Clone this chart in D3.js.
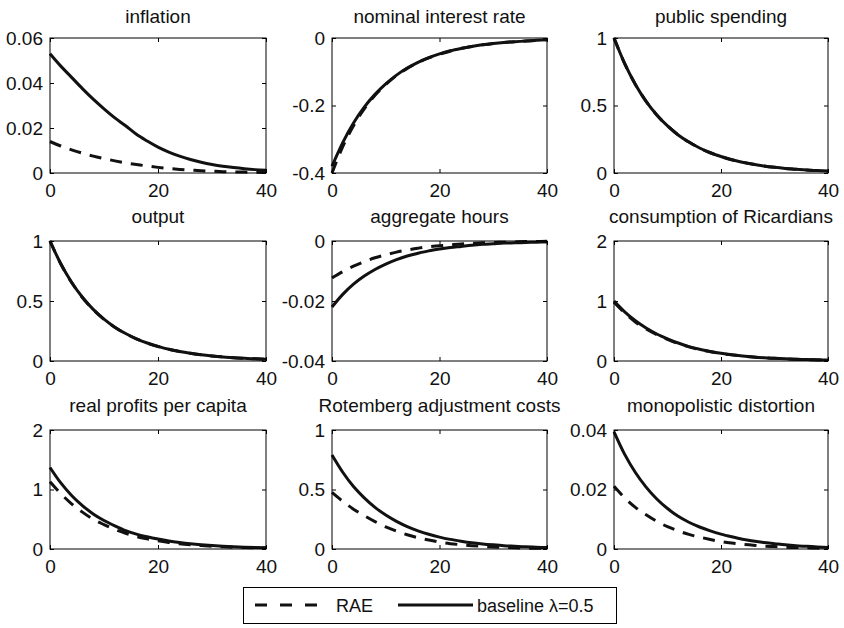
<!DOCTYPE html>
<html><head><meta charset="utf-8">
<script src="https://cdn.jsdelivr.net/npm/d3@7"></script>
<style>
body{margin:0;background:#fff}
svg{display:block}
text{font-family:"Liberation Sans",Arial,Helvetica,sans-serif}
</style>
</head><body>
<svg id="c" width="844" height="628"></svg>
<script>
// ---------- data ----------
const periods = [0,2,4,6,8,10,12,14,16,18,20,22,24,26,28,30,32,34,36,38,40];
const xTicks = [0,20,40];
const xTickLabels = ["0","20","40"];
const seriesNames = ["RAE", "baseline \u03bb=0.5"];

const titles = ["inflation","nominal interest rate","public spending",
  "output","aggregate hours","consumption of Ricardians",
  "real profits per capita","Rotemberg adjustment costs","monopolistic distortion"];

const inflationRAE  = [0.014,0.012,0.0103,0.0088,0.0075,0.0064,0.0054,0.0045,0.0038,0.0031,0.0025,0.002,0.0016,0.0013,0.001,0.0008,0.0006,0.0005,0.0004,0.0003,0.0002];
const inflationBase = [0.053,0.0475,0.0425,0.0375,0.0328,0.0285,0.0245,0.021,0.0172,0.0142,0.0115,0.0093,0.0075,0.006,0.0048,0.0038,0.003,0.0024,0.0019,0.0015,0.0012];

const nominalRAE  = [-0.40,-0.322,-0.26,-0.21,-0.17,-0.138,-0.111,-0.09,-0.073,-0.059,-0.048,-0.039,-0.031,-0.025,-0.02,-0.016,-0.013,-0.011,-0.009,-0.007,-0.005];
const nominalBase = [-0.38,-0.31,-0.252,-0.205,-0.167,-0.136,-0.11,-0.089,-0.072,-0.058,-0.047,-0.038,-0.031,-0.025,-0.02,-0.016,-0.013,-0.011,-0.009,-0.007,-0.005];

const spendingRAE  = [1.0,0.81,0.656,0.531,0.43,0.349,0.282,0.229,0.185,0.15,0.122,0.098,0.08,0.065,0.052,0.042,0.034,0.028,0.022,0.018,0.014];
const spendingBase = [1.0,0.81,0.656,0.531,0.43,0.349,0.282,0.229,0.185,0.15,0.122,0.098,0.08,0.065,0.052,0.042,0.034,0.028,0.022,0.018,0.014];

const outputRAE  = [1.0,0.808,0.654,0.529,0.428,0.347,0.281,0.228,0.184,0.149,0.121,0.098,0.079,0.064,0.052,0.042,0.034,0.028,0.022,0.018,0.014];
const outputBase = [1.0,0.81,0.656,0.531,0.43,0.349,0.282,0.229,0.185,0.15,0.122,0.098,0.08,0.065,0.052,0.042,0.034,0.028,0.022,0.018,0.014];

const hoursRAE  = [-0.0123,-0.0102,-0.0084,-0.0069,-0.0056,-0.0046,-0.0037,-0.003,-0.0024,-0.0019,-0.0016,-0.0013,-0.001,-0.0008,-0.0006,-0.0005,-0.0004,-0.0003,-0.0002,-0.0002,-0.0001];
const hoursBase = [-0.022,-0.0178,-0.0144,-0.0117,-0.0095,-0.0077,-0.0062,-0.005,-0.0041,-0.0033,-0.0027,-0.0022,-0.0018,-0.0014,-0.0011,-0.0009,-0.0007,-0.0006,-0.0005,-0.0004,-0.0003];

const consumptionRAE  = [0.98,0.80,0.65,0.535,0.44,0.36,0.29,0.235,0.19,0.155,0.125,0.102,0.083,0.067,0.054,0.044,0.035,0.028,0.023,0.018,0.014];
const consumptionBase = [1.0,0.82,0.67,0.55,0.45,0.37,0.30,0.24,0.195,0.16,0.13,0.105,0.085,0.068,0.055,0.045,0.036,0.029,0.024,0.019,0.015];

const profitsRAE  = [1.13,0.93,0.76,0.62,0.5,0.41,0.33,0.265,0.21,0.17,0.137,0.11,0.088,0.071,0.057,0.046,0.037,0.03,0.024,0.019,0.015];
const profitsBase = [1.37,1.11,0.90,0.73,0.59,0.48,0.39,0.31,0.25,0.205,0.167,0.135,0.11,0.089,0.072,0.058,0.047,0.038,0.031,0.025,0.02];

const rotembergRAE  = [0.475,0.40,0.335,0.28,0.23,0.185,0.15,0.12,0.095,0.075,0.058,0.045,0.036,0.028,0.022,0.017,0.013,0.01,0.008,0.006,0.005];
const rotembergBase = [0.79,0.645,0.525,0.43,0.35,0.285,0.232,0.188,0.153,0.124,0.10,0.081,0.066,0.053,0.043,0.035,0.028,0.023,0.018,0.015,0.012];

const monopolyRAE  = [0.0211,0.0172,0.014,0.0115,0.0093,0.0075,0.0061,0.0049,0.004,0.0032,0.0025,0.002,0.0016,0.0013,0.001,0.0008,0.0006,0.0005,0.0004,0.0003,0.0002];
const monopolyBase = [0.0394,0.0318,0.0257,0.0208,0.0168,0.0136,0.011,0.009,0.0074,0.0061,0.005,0.0041,0.0033,0.0027,0.0022,0.0018,0.0014,0.0011,0.0009,0.0007,0.0005];

const inflationTicks = [0,0.02,0.04,0.06],  inflationTickLabels = ["0","0.02","0.04","0.06"];
const nominalTicks   = [-0.4,-0.2,0],        nominalTickLabels   = ["-0.4","-0.2","0"];
const spendingTicks  = [0,0.5,1],            spendingTickLabels  = ["0","0.5","1"];
const outputTicks    = [0,0.5,1],            outputTickLabels    = ["0","0.5","1"];
const hoursTicks     = [-0.04,-0.02,0],      hoursTickLabels     = ["-0.04","-0.02","0"];
const consTicks      = [0,1,2],              consTickLabels      = ["0","1","2"];
const profitsTicks   = [0,1,2],              profitsTickLabels   = ["0","1","2"];
const rotTicks       = [0,0.5,1],            rotTickLabels       = ["0","0.5","1"];
const monoTicks      = [0,0.02,0.04],        monoTickLabels      = ["0","0.02","0.04"];

const panelData = [
  [inflationRAE, inflationBase, inflationTicks, inflationTickLabels],
  [nominalRAE, nominalBase, nominalTicks, nominalTickLabels],
  [spendingRAE, spendingBase, spendingTicks, spendingTickLabels],
  [outputRAE, outputBase, outputTicks, outputTickLabels],
  [hoursRAE, hoursBase, hoursTicks, hoursTickLabels],
  [consumptionRAE, consumptionBase, consTicks, consTickLabels],
  [profitsRAE, profitsBase, profitsTicks, profitsTickLabels],
  [rotembergRAE, rotembergBase, rotTicks, rotTickLabels],
  [monopolyRAE, monopolyBase, monoTicks, monoTickLabels]
];

// ---------- layout ----------
const cols = [[50,266],[332,547],[614,828]];
const rows = [{t:38,b:173,title:23},{t:241,b:361,title:223},{t:430,b:549,title:412}];
const FS = 19;
const LFS = 18;
const INK = "#111";

const svg = d3.select("#c");
svg.append("rect").attr("width",844).attr("height",628).attr("fill","#fff");

panelData.forEach((pd, k) => {
  const [rae, base, ticks, tickLabels] = pd;
  const c = cols[k % 3], r = rows[Math.floor(k / 3)];
  const x = d3.scaleLinear().domain([0,40]).range([c[0], c[1]]);
  const y = d3.scaleLinear().domain([ticks[0], ticks[ticks.length-1]]).range([r.b, r.t]);
  const g = svg.append("g");

  const styleAxis = sel => {
    sel.attr("font-size", FS).attr("font-family", '"Liberation Sans",Arial,sans-serif');
    sel.select(".domain").remove();
    sel.selectAll("line").attr("stroke", "#000");
    sel.selectAll("text").attr("fill", INK);
  };
  g.append("g").attr("transform", `translate(0,${r.b})`)
    .call(d3.axisBottom(x).tickValues(xTicks).tickFormat((d,i)=>xTickLabels[i]).tickSize(-4).tickSizeOuter(0).tickPadding(11))
    .call(styleAxis);
  g.append("g").attr("transform", `translate(0,${r.t})`)
    .call(d3.axisTop(x).tickValues(xTicks).tickFormat("").tickSize(-4).tickSizeOuter(0))
    .call(styleAxis);
  g.append("g").attr("transform", `translate(${c[0]},0)`)
    .call(d3.axisLeft(y).tickValues(ticks).tickFormat((d,i)=>tickLabels[i]).tickSize(-4).tickSizeOuter(0).tickPadding(7))
    .call(styleAxis);
  g.append("g").attr("transform", `translate(${c[1]},0)`)
    .call(d3.axisRight(y).tickValues(ticks).tickFormat("").tickSize(-4).tickSizeOuter(0))
    .call(styleAxis);

  const line = d3.line().x((v,i)=>x(periods[i])).y(v=>y(v)).curve(d3.curveMonotoneX);
  g.append("path").attr("d", line(base)).attr("fill","none").attr("stroke",INK)
    .attr("stroke-width",3).attr("stroke-linejoin","round");
  g.append("path").attr("d", line(rae)).attr("fill","none").attr("stroke",INK)
    .attr("stroke-width",3).attr("stroke-dasharray","12,9");

  g.append("rect").attr("x",c[0]).attr("y",r.t).attr("width",c[1]-c[0]).attr("height",r.b-r.t)
    .attr("fill","none").attr("stroke","#000").attr("stroke-width",1);

  g.append("text").attr("x",(c[0]+c[1])/2).attr("y",r.title).attr("text-anchor","middle")
    .attr("font-size",FS).attr("fill",INK).text(titles[k]);
});

// ---------- legend ----------
const lg = svg.append("g");
lg.append("rect").attr("x",243.5).attr("y",587.5).attr("width",373).attr("height",36)
  .attr("fill","#fff").attr("stroke","#000").attr("stroke-width",1);
lg.append("line").attr("x1",255).attr("x2",317).attr("y1",605).attr("y2",605)
  .attr("stroke",INK).attr("stroke-width",3).attr("stroke-dasharray","12,13");
lg.append("text").attr("x",336).attr("y",612).attr("font-size",LFS).attr("fill",INK).text(seriesNames[0]);
lg.append("line").attr("x1",398).attr("x2",473).attr("y1",605).attr("y2",605)
  .attr("stroke",INK).attr("stroke-width",3);
lg.append("text").attr("x",477).attr("y",612).attr("font-size",LFS).attr("fill",INK).text(seriesNames[1]);
</script>
</body></html>
